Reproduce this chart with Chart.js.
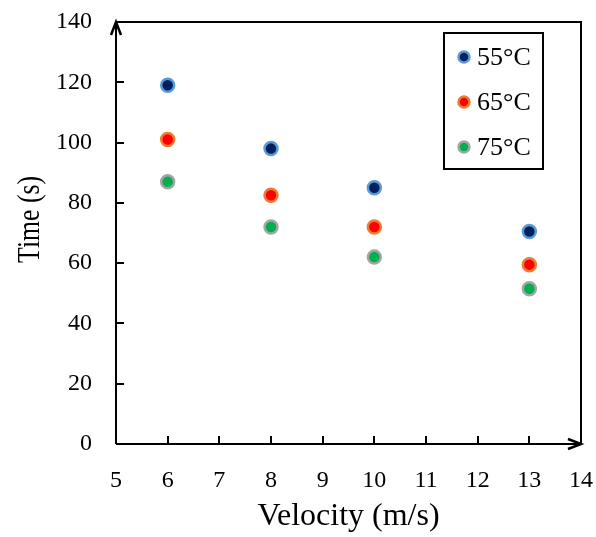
<!DOCTYPE html>
<html>
<head>
<meta charset="utf-8">
<style>
  html, body { margin: 0; padding: 0; background: #fff; }
  #wrap { width: 596px; height: 537px; }
</style>
<script src="https://cdn.jsdelivr.net/npm/chart.js@4/dist/chart.umd.min.js"></script>
</head>
<body>
<div id="wrap"><canvas id="c" width="596" height="537"></canvas></div>
<script>
// Drying time versus air velocity at three temperatures
const velocities = [6, 8, 10, 13];
const time55 = [119, 98, 85, 70.5];
const time65 = [101, 82.5, 72, 59.5];
const time75 = [87, 72, 62, 51.5];
const seriesLabels = ['55\u00B0C', '65\u00B0C', '75\u00B0C'];
const xTickValues = [5, 6, 7, 8, 9, 10, 11, 12, 13, 14];
const yTickValues = [0, 20, 40, 60, 80, 100, 120, 140];
const yTitle = 'Time (s)';

const SERIF = '"Liberation Serif", "Times New Roman", serif';
const fills = ['#002060', '#ff0000', '#00b050'];
const rims = ['#5b9bd5', '#ed7d31', '#a5a5a5'];

function points(ys) {
  return velocities.map((v, i) => ({ x: v, y: ys[i] }));
}

// Axes drawn as arrows, inward tick marks, closed frame, boxed legend
const framePlugin = {
  id: 'frame',
  afterDraw(chart) {
    const { ctx, chartArea: a, scales } = chart;
    const xs = scales.x, ys = scales.y;
    ctx.save();
    ctx.strokeStyle = '#000';
    ctx.lineWidth = 2;
    ctx.lineCap = 'butt';
    // frame
    ctx.beginPath();
    ctx.moveTo(a.left, a.bottom);
    ctx.lineTo(a.left, a.top);
    ctx.lineTo(a.right, a.top);
    ctx.lineTo(a.right, a.bottom);
    ctx.lineTo(a.left, a.bottom);
    ctx.stroke();
    // inward ticks
    ctx.beginPath();
    xTickValues.slice(1, -1).forEach(v => {
      const px = Math.round(xs.getPixelForValue(v));
      ctx.moveTo(px, a.bottom);
      ctx.lineTo(px, a.bottom - 8);
    });
    yTickValues.slice(1, -1).forEach(v => {
      const py = Math.round(ys.getPixelForValue(v));
      ctx.moveTo(a.left, py);
      ctx.lineTo(a.left + 8, py);
    });
    ctx.stroke();
    // arrowheads
    ctx.lineWidth = 2.5;
    ctx.lineJoin = 'miter';
    ctx.beginPath();
    ctx.moveTo(a.left - 5, a.top + 13);
    ctx.lineTo(a.left, a.top);
    ctx.lineTo(a.left + 5, a.top + 13);
    ctx.moveTo(a.right - 13, a.bottom - 5);
    ctx.lineTo(a.right, a.bottom);
    ctx.lineTo(a.right - 13, a.bottom + 5);
    ctx.stroke();

    // y-axis title, set tall and narrow
    ctx.save();
    ctx.translate(31, ys.getPixelForValue(74.5));
    ctx.rotate(-Math.PI / 2);
    ctx.scale(0.83, 1);
    ctx.font = '31px ' + SERIF;
    ctx.fillStyle = '#000';
    ctx.textAlign = 'center';
    ctx.textBaseline = 'middle';
    ctx.fillText(yTitle, 0, 0);
    ctx.restore();

    // legend
    const bx = a.right - 137, by = a.top + 11, bw = 99, bh = 136;
    ctx.lineWidth = 2;
    ctx.strokeRect(bx, by, bw, bh);
    ctx.font = '26px ' + SERIF;
    ctx.textBaseline = 'middle';
    ctx.textAlign = 'left';
    chart.data.datasets.forEach((ds, i) => {
      const cy = by + 24 + i * 45;
      ctx.beginPath();
      ctx.arc(bx + 20, cy, 5.5, 0, Math.PI * 2);
      ctx.fillStyle = ds.backgroundColor;
      ctx.fill();
      ctx.lineWidth = 2.5;
      ctx.strokeStyle = ds.borderColor;
      ctx.stroke();
      ctx.fillStyle = '#000';
      ctx.fillText(ds.label, bx + 33, cy + 1);
    });
    ctx.restore();
  }
};

new Chart(document.getElementById('c'), {
  type: 'scatter',
  data: {
    datasets: [time55, time65, time75].map((ys, i) => ({
      label: seriesLabels[i],
      data: points(ys),
      backgroundColor: fills[i],
      borderColor: rims[i],
      borderWidth: 2.5,
      pointRadius: 6.5,
      pointHoverRadius: 6.5
    }))
  },
  options: {
    responsive: false,
    animation: false,
    layout: { padding: { top: 22, right: 15, left: 0, bottom: 0 } },
    plugins: { legend: { display: false }, tooltip: { enabled: false } },
    scales: {
      x: {
        type: 'linear',
        min: 5, max: 14,
        afterBuildTicks(s) { s.ticks = xTickValues.map(v => ({ value: v })); },
        afterFit(s) { s.height = 93; s.paddingLeft = 0; s.paddingRight = 0; },
        grid: { display: false, drawTicks: false },
        border: { display: false },
        ticks: { color: '#000', font: { family: SERIF, size: 24 }, padding: 22, maxRotation: 0 },
        title: { display: true, text: 'Velocity (m/s)', color: '#000',
                 font: { family: SERIF, size: 32 }, padding: { top: 0, bottom: 1 } }
      },
      y: {
        min: 0, max: 140,
        afterBuildTicks(s) { s.ticks = yTickValues.map(v => ({ value: v })); },
        afterFit(s) { s.width = 116; s.paddingTop = 0; s.paddingBottom = 0; },
        grid: { display: false, drawTicks: false },
        border: { display: false },
        ticks: { color: '#000', font: { family: SERIF, size: 24 }, padding: 24 },
        title: { display: false }
      }
    }
  },
  plugins: [framePlugin]
});
</script>
</body>
</html>
